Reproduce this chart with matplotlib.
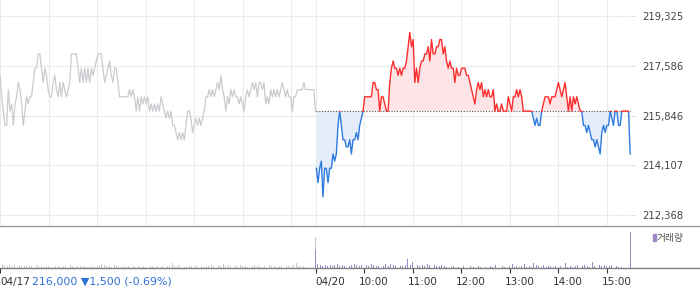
import matplotlib
matplotlib.use('Agg')
import matplotlib.pyplot as plt
import numpy as np
from matplotlib.patches import Rectangle
from matplotlib.lines import Line2D
from matplotlib.transforms import ScaledTranslation

plt.rcParams['font.family'] = ['DejaVu Sans', 'Noto Sans CJK KR']

# --- data ---
base_price = 216000  # 04/17 close
y_ticks = [212368, 214107, 215846, 217586, 219325]
x_ticks = [0, 390, 450, 510, 570, 630, 690, 750]  # minutes from 04/17 09:00
x_labels = ['04/17', '04/20', '10:00', '11:00', '12:00', '13:00', '14:00', '15:00']
grid_x = [0, 60, 120, 180, 240, 300, 360, 390, 450, 510, 570, 630, 690, 750]

# 04/17 price, ~2 minute steps
prev_prices = [
    217250, 216500, 216000, 215500, 215500, 216750, 216000, 216250, 215500, 216250,
    216500, 217000, 216750, 216250, 215500, 216000, 216500, 216250, 216500, 216500,
    217000, 217500, 217500, 218000, 218000, 217500, 217000, 217500, 217250, 216750,
    216500, 216500, 217000, 217250, 216750, 216500, 217000, 216500, 217000, 216750,
    216500, 216750, 217000, 218000, 218000, 218000, 218000, 217500, 217000, 217500,
    217000, 217500, 217000, 217500, 217000, 217500, 217250, 217500, 217750, 218000,
    218000, 218000, 217500, 217000, 217250, 217500, 217750, 217250, 217000, 217500,
    217500, 217000, 216500, 216500, 216500, 216500, 216500, 216500, 216750, 216500,
    216750, 216500, 216000, 216500, 216000, 216500, 216250, 216500, 216250, 216500,
    216000, 216250, 216000, 216250, 216000, 216250, 216000, 216500, 216250, 216000,
    215750, 216000, 215750, 216000, 215500, 215500, 215250, 215000, 215250, 215000,
    215250, 215000, 215500, 216000, 216000, 215750, 215250, 215500, 215750, 215500,
    215750, 215500, 215750, 216000, 216500, 216500, 216750, 216500, 216750, 216500,
    216750, 217000, 216750, 217250, 216750, 216500, 216000, 216500, 216250, 216750,
    216500, 216750, 216500, 216500, 216250, 216500, 216250, 216000, 216500, 216750,
    216500, 216750, 217000, 216750, 217000, 216500, 217000, 217000, 216750, 217000,
    216250, 216500, 216250, 216750, 216500, 216750, 216500, 216750, 216500, 216750,
    217000, 216750, 216500, 216750, 216500, 216500, 216000, 216500, 216500, 216750,
    216750, 216750, 216750, 217000, 216750, 216750, 216750, 216750, 216750, 216750,
    216000,
]

# 04/20 price, ~2 minute steps
today_prices = [
    214000, 213500, 214000, 214250, 213000, 214000, 214000, 213500, 214000, 214000,
    214500, 214250, 214500, 215500, 216000, 215500, 215000, 215000, 214750, 214750,
    215000, 214500, 215000, 215000, 215250, 215000, 215500, 215750, 216000,
    216500, 216500, 216500, 216500, 216500, 217000, 217000, 216750, 216750, 216000,
    216500, 216500, 216250, 216000, 216000, 217000, 217500, 217750, 217500, 217500,
    217250, 217500, 217250, 217500, 217500, 217750, 218250, 218750, 218250, 218500,
    217000, 217500, 217000, 217500, 217750, 217750, 218000, 218000, 218250, 217750,
    218500, 218000, 218000, 218250, 218250, 218500, 218500, 218000, 218250, 217750,
    217500, 217750, 217500, 217500, 217000, 217500, 217250, 217250, 217500, 217500,
    217500, 217250, 217250, 217000, 216750, 216500, 216250, 216750, 217000, 216750,
    217000, 216500, 216750, 216500, 216750, 216500, 216500, 216750, 216000, 216250,
    216000,
    216000, 216250, 216000, 216000, 216000, 216500, 216250, 216000, 216500, 216500,
    216750, 216500, 216750, 216500, 216000, 216000, 216000, 216000, 216000, 216000,
    215750, 215500, 215750, 215500, 215500, 216000, 216250, 216500, 216500, 216500,
    216250, 216500, 216500, 216500, 216750, 217000, 216750, 216500, 216750, 217000,
    216500, 216000, 216500, 216000, 216500, 216250, 216500, 216250, 216000, 216000,
    215500, 215500, 215250, 215500, 215250, 215000, 215000, 214750, 215000, 214750,
    214500, 215250, 215500, 215250, 215500, 215500, 216000, 215750, 215500, 216000,
    216000, 215500, 215500, 216000, 216000, 216000, 216000, 216000, 214500,
]

# volume (thousand shares), 3 minute buckets + closing auction
prev_volume = [
    13, 4, 3, 2, 3, 2, 3, 2, 3, 2, 2, 3, 2, 2, 4, 3, 2, 2, 1, 2,
    2, 3, 1, 2, 2, 1, 2, 2, 1, 3, 2, 1, 2, 2, 1, 2, 1, 2, 2, 1,
    2, 2, 4, 3, 2, 2, 1, 3, 2, 2, 1, 2, 2, 2, 1, 2, 1, 2, 1, 2,
    1, 1, 2, 2, 1, 2, 1, 2, 5, 2, 2, 5, 2, 2, 3, 2, 1, 2, 2, 2,
    1, 3, 2, 2, 1, 2, 2, 3, 2, 2, 3, 2, 4, 2, 3, 2, 1, 2, 2, 3,
    2, 2, 1, 2, 2, 3, 2, 2, 1, 2, 2, 3, 2, 2, 1, 2, 2, 2, 2, 2,
    2, 3, 5, 2, 2, 2, 1, 0, 0, 0,
    31.5,
]
today_volume = [
    18, 4, 3, 2, 3, 2, 3, 2, 3, 4, 2, 3, 2, 3, 2, 3, 4, 3, 2, 3,
    2, 3, 2, 4, 3, 2, 2, 3, 2, 4, 2, 4, 3, 2, 3, 2, 2, 3, 9, 3,
    6, 2, 3, 2, 3, 2, 4, 3, 2, 3, 2, 2, 3, 2, 1, 2, 1, 2, 0, 1,
    0, 2, 1, 0, 2, 1, 0, 2, 1, 3, 1, 0, 2, 1, 3, 0, 1, 2, 1, 0,
    2, 4, 1, 2, 1, 2, 4, 1, 2, 1, 5, 3, 2, 1, 3, 1, 2, 2, 1, 2,
    1, 2, 1, 5, 1, 2, 1, 2, 3, 1, 2, 3, 2, 1, 6, 2, 2, 3, 2, 3,
    2, 2, 3, 2, 2, 1, 1, 0, 0, 0,
    36,
]

prev = np.array(prev_prices, dtype=float)
today = np.array(today_prices, dtype=float)
prev_t = np.linspace(0, 390, len(prev))
today_t = np.linspace(391, 779, len(today))
prev_vt = np.append(np.arange(0, 390, 3), 390)
today_vt = np.append(np.arange(390, 780, 3), 779.3)

RED = '#ff2e2e'
BLUE = '#2f7be0'
GREY = '#c9cbcf'
PURPLE = '#9c88c9'

fig = plt.figure(figsize=(7, 2.89), dpi=100)
ax = fig.add_axes([0, 63 / 289, 631 / 700, 226 / 289])
vx = fig.add_axes([0, 21 / 289, 631 / 700, 42 / 289])

# --- price panel ---
ax.plot(prev_t, prev, color=GREY, lw=0.9, zorder=3)

ax.fill_between(today_t, today, base_price, where=today >= base_price,
                interpolate=True, color='#fde5e7', lw=0, zorder=1)
ax.fill_between(today_t, today, base_price, where=today <= base_price,
                interpolate=True, color='#e4edf9', lw=0, zorder=1)
ax.plot([390, 780], [base_price, base_price], color='#555555', lw=0.8,
        ls=(0, (1, 1.5)), zorder=2)

red_line, = ax.plot(today_t, today, color=RED, lw=1, zorder=3)
red_line.set_clip_path(Rectangle((0, base_price - 30), 800, 10000, transform=ax.transData))
blue_line, = ax.plot(today_t, today, color=BLUE, lw=1, zorder=3)
blue_line.set_clip_path(Rectangle((0, 200000), 800, base_price - 30 - 200000, transform=ax.transData))

ax.set_xlim(0, 780)
ax.set_ylim(211983, 219884)
ax.set_xticks(grid_x)
ax.set_yticks(y_ticks)
ax.set_yticklabels([f'{v:,}' for v in y_ticks])
ax.yaxis.tick_right()
ax.tick_params(axis='x', length=0, labelbottom=False)
ax.tick_params(axis='y', length=3, color='#dddddd', labelsize=7.2,
               labelcolor='#444444', pad=5)
ax.grid(color='#ebebeb', lw=0.8, zorder=0)
ax.set_axisbelow(True)
for s in ax.spines.values():
    s.set_visible(False)

# --- volume panel ---
vx.bar(prev_vt, prev_volume, width=1.1, color='#c8c8c8', lw=0)
vx.bar(today_vt, today_volume, width=1.1, color=PURPLE, lw=0)
vx.set_xlim(0, 780)
vx.set_ylim(0, 42)
vx.set_yticks([])
vx.set_xticks(x_ticks)
vx.set_xticklabels(x_labels)
vx.tick_params(axis='x', length=3.5, color='#333333', labelsize=7.5,
               labelcolor='#333333', pad=3)
for i, lbl in enumerate(vx.get_xticklabels()):
    lbl.set_horizontalalignment('left')
    if i >= 2:
        lbl.set_transform(lbl.get_transform() + ScaledTranslation(-5 / 100, 0, fig.dpi_scale_trans))
for s in vx.spines.values():
    s.set_visible(False)

# panel borders across the full width
fig.add_artist(Line2D([0, 1], [63 / 289, 63 / 289], color='#9a9a9a', lw=1))
fig.add_artist(Line2D([0, 1], [21 / 289, 21 / 289], color='#808080', lw=1))

# volume legend
fig.patches.append(Rectangle((653 / 700, 48 / 289), 2.5 / 700, 7 / 289,
                             transform=fig.transFigure, color=PURPLE))
fig.text(657 / 700, 51.5 / 289, '거래량', fontsize=7, color='#555555', va='center')

# change info next to the first date label
fig.text(32 / 700, 7 / 289, '216,000 ▼1,500 (-0.69%)', fontsize=7.9,
         color='#2f6fd6', va='center')

fig.savefig('out.png', dpi=100)
